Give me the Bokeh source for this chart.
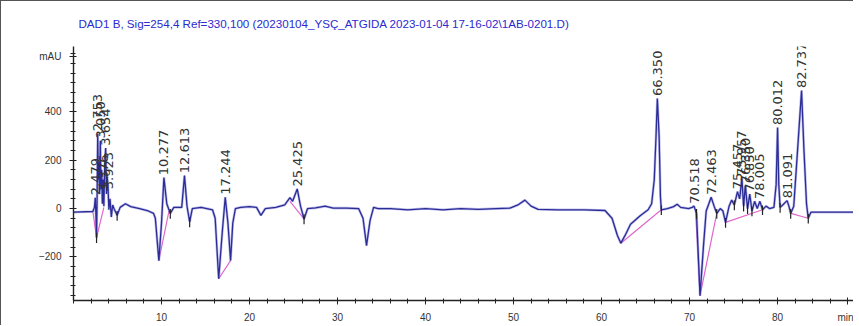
import numpy as np
from bokeh.plotting import figure
from bokeh.models import Range1d, FixedTicker, ColumnDataSource
from bokeh.embed import file_html
from bokeh.resources import INLINE
from bokeh.core.properties import value

# ---- chromatogram signal (retention time in min, absorbance in mAU) ----
trace_time = [0.0, 2.2, 2.38, 2.479, 2.56, 2.62, 2.68, 2.753, 2.82, 2.88, 2.95, 3.05, 3.12, 3.2,
              3.28, 3.376, 3.45, 3.55, 3.654, 3.75, 3.83, 3.923, 4.02, 4.15, 4.3, 4.45, 4.6, 4.96,
              5.3, 5.9, 6.5, 7.5, 8.5, 9.1, 9.3, 9.7, 10.0, 10.277, 10.6, 11.0, 11.4, 12.3, 12.613,
              12.9, 13.2, 13.5, 14.5, 15.8, 16.1, 16.5, 16.9, 17.244, 17.55, 17.85, 18.1, 18.4,
              19.0, 20.0, 20.8, 21.3, 21.8, 23.0, 24.0, 24.6, 24.9, 25.425, 25.8, 26.2, 26.6, 27.5,
              28.6, 29.5, 31.0, 32.4, 32.9, 33.3, 33.7, 34.1, 34.6, 36.0, 38.0, 40.0, 42.0, 44.0,
              46.0, 48.0, 49.6, 50.5, 51.3, 52.0, 52.8, 55.0, 58.0, 60.4, 61.2, 61.8, 62.2, 62.7,
              63.3, 64.4, 65.3, 65.7, 66.0, 66.2, 66.35, 66.55, 66.7, 66.8, 67.5, 68.2, 68.6, 69.0,
              69.9, 70.3, 70.518, 70.8, 71.2, 71.6, 71.9, 72.2, 72.463, 72.8, 73.1, 73.5, 73.8,
              74.1, 74.5, 74.8, 75.1, 75.457, 75.7, 75.957, 76.15, 76.35, 76.6, 76.85, 77.1, 77.4,
              77.7, 78.005, 78.3, 78.7, 79.1, 79.6, 79.85, 80.012, 80.15, 80.3, 80.6, 81.091, 81.3,
              81.5, 81.85, 82.3, 82.737, 83.0, 83.3, 83.5, 83.8, 89.0, 89.2, 90.0]
trace_mau = [-15, -12, 5, 45, -40, -120, 40, 310, 120, 190, 60, 280, 80, 160,
             20, 120, 10, 180, 250, 60, 130, 90, -5, 40, -35, 15, 0, -28,
             5, 20, 8, 0, -10, -20, -40, -215, -60, 128, 20, -20, 5, 5, 136,
             10, -55, 0, 5, -5, -40, -290, -100, 47, -60, -215, -60, 0,
             5, 8, 5, -28, 0, 5, 15, 45, 30, 81, 10, -43, 0, 3,
             10, 2, 2, 0, -40, -153, -50, 5, 0, 0, -5, 0, -5, 0,
             -3, 0, 2, 15, 35, 10, -3, -5, -5, -8, -40, -110, -143, -110,
             -65, -30, -5, 20, 120, 300, 455, 300, 50, -5, 0, 8, 18, 5,
             0, 5, 10, -20, -360, -150, -10, 20, 47, 10, -20, 0, -10,
             -57, 10, 35, 15, 70, 40, 125, 10, 95, 0, 60, -10, 30,
             0, 30, -5, 10, 0, 5, 100, 335, 100, 5, 15, 33, 10,
             -20, 10, 250, 488, 250, 20, -40, -15, -15, -8, -8]

# ---- integration baselines (pink) ----
baseline_times = [[2.2, 2.62, 3.45], [9.7, 10.85], [16.5, 17.85], [24.6, 26.2],
                  [62.2, 66.8], [70.7, 71.2, 73.1], [74.1, 78.3], [81.5, 83.5]]
baseline_mau = [[-12, -120, 5], [-215, -10], [-290, -215], [30, -43],
                [-143, -5], [-5, -360, -20], [-57, -5], [-20, -40]]

# ---- peak boundary marks (black) ----
mark_times = [2.62, 4.96, 11.0, 13.2, 26.2, 66.8, 70.8, 73.1, 74.1, 75.1, 76.15, 76.6,
              77.1, 78.3, 80.3, 81.5, 83.5]

# ---- peak labels ----
peak_rt = [2.479, 2.753, 3.050, 3.376, 3.654, 3.923, 10.277, 12.613, 17.244, 25.425,
           66.350, 70.518, 72.463, 75.457, 75.957, 76.350, 76.850, 78.005, 80.012,
           81.091, 82.737]
peak_mau = [45, 310, 280, 60, 250, 70, 128, 136, 47, 81,
            455, 10, 47, 70, 125, 95, 60, 30, 335,
            33, 488]

y_ticks = [-200, 0, 200, 400, 630]
y_tick_labels = {630: "mAU"}
x_ticks = [10, 20, 30, 40, 50, 60, 70, 80, 88]
x_tick_labels = {88: "min"}

title_text = "DAD1 B, Sig=254,4 Ref=330,100 (20230104_YS\u00c7_ATGIDA 2023-01-04 17-16-02\\1AB-0201.D)"

p = figure(frame_width=780, frame_height=254, output_backend="svg", toolbar_location=None,
           x_range=Range1d(0, 88.64), y_range=Range1d(-380, 670),
           min_border_left=72, min_border_right=0, min_border_top=45, min_border_bottom=0,
           title=title_text)
p.outline_line_color = None
p.xgrid.visible = False
p.ygrid.visible = False
p.background_fill_color = "white"
p.border_fill_color = "white"
p.stylesheets = [":host { border-top: 1px solid #555; border-left: 1px solid #555; }"]

p.title.align = "left"
p.title.offset = 5
p.title.standoff = 30
p.title.vertical_align = "top"
p.title.text_font = "Liberation Sans"
p.title.text_font_size = "11.6px"
p.title.text_font_style = "normal"
p.title.text_color = "#2a2ad0"

for ax in (p.xaxis[0], p.yaxis[0]):
    ax.axis_line_color = "#222"
    ax.axis_line_width = 1.4
    ax.major_tick_line_color = "#222"
    ax.minor_tick_line_color = "#222"
    ax.major_tick_in = 3
    ax.major_tick_out = 4
    ax.minor_tick_in = 2
    ax.minor_tick_out = 3
    ax.major_label_text_font = "Liberation Sans"
    ax.major_label_text_font_size = "10px"
    ax.major_label_text_color = "#333"

p.xaxis.major_label_standoff = 7
p.yaxis.major_label_standoff = 8
p.xaxis.ticker = FixedTicker(ticks=x_ticks, minor_ticks=list(range(0, 90, 2)))
p.yaxis.ticker = FixedTicker(ticks=y_ticks, minor_ticks=list(range(-360, 660, 40)))
p.xaxis.major_label_overrides = x_tick_labels
p.yaxis.major_label_overrides = y_tick_labels

# baselines
p.multi_line(xs=baseline_times, ys=baseline_mau, line_color="#e066cc", line_width=1.2)

# signal
p.line(trace_time, trace_mau, line_color="#7070d8", line_width=2.6, line_alpha=0.45)
p.line(trace_time, trace_mau, line_color="#2c2c96", line_width=1.3)

# peak boundary marks
mark_v = np.interp(mark_times, trace_time, trace_mau)
p.segment(x0=mark_times, y0=mark_v - 22, x1=mark_times, y1=mark_v + 18,
          line_color="#222", line_width=1.2)

# peak labels
src = ColumnDataSource(dict(x=peak_rt, y=[v + 10 for v in peak_mau],
                            t=[f"{r:.3f}" for r in peak_rt]))
p.text(x="x", y="y", text="t", source=src, angle=np.pi / 2, text_align="left",
       text_baseline="middle", text_font=value("DejaVu Sans"), text_font_size="13px",
       text_color="#333")

open("out.html", "w").write(file_html(p, INLINE))
